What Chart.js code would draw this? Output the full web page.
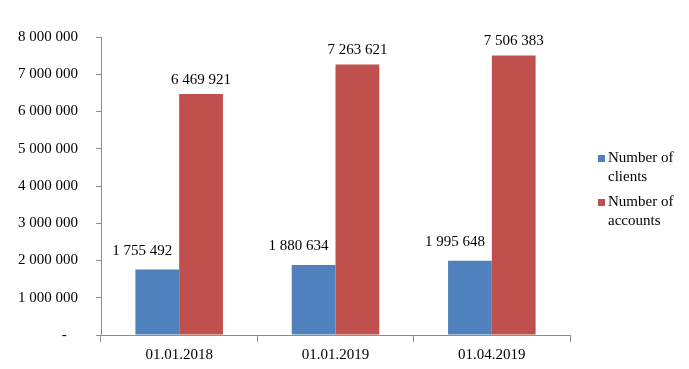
<!DOCTYPE html>
<html>
<head>
<meta charset="utf-8">
<script src="https://cdn.jsdelivr.net/npm/chart.js@4"></script>
<style>
  html, body { margin: 0; padding: 0; background: #fff; }
  #wrap { width: 689px; height: 369px; }
</style>
</head>
<body>
<div id="wrap"><canvas id="chart"></canvas></div>
<script>
// Clients vs accounts, three reporting dates.
const dates = ['01.01.2018', '01.01.2019', '01.04.2019'];
const clients = [1755492, 1880634, 1995648];
const accounts = [6469921, 7263621, 7506383];
const seriesNames = [['Number of', 'clients'], ['Number of', 'accounts']];

const FONT = '"Liberation Serif", "Times New Roman", serif';
const AXIS = '#8c8c8c';

function spaced(n) {
  return String(Math.round(n)).replace(/\B(?=(\d{3})+(?!\d))/g, ' ');
}

// value labels above each bar (clients labels nudged left, like the original)
const labelShift = [{ dx: -15, dy: -19 }, { dx: 0, dy: -14 }];
const barLabels = {
  id: 'barLabels',
  afterDatasetsDraw(chart) {
    const ctx = chart.ctx;
    ctx.save();
    ctx.font = '15px ' + FONT;
    ctx.fillStyle = '#000';
    ctx.textAlign = 'center';
    ctx.textBaseline = 'middle';
    chart.data.datasets.forEach((ds, i) => {
      const sh = labelShift[i];
      chart.getDatasetMeta(i).data.forEach((bar, j) => {
        ctx.fillText(spaced(ds.data[j]), bar.x + sh.dx, bar.y + sh.dy);
      });
    });
    ctx.restore();
  }
};

// legend on the right with wrapped names
const sideLegend = {
  id: 'sideLegend',
  afterDraw(chart) {
    const ctx = chart.ctx;
    ctx.save();
    ctx.font = '15px ' + FONT;
    ctx.textBaseline = 'middle';
    ctx.textAlign = 'left';
    chart.data.datasets.forEach((ds, i) => {
      const y = 158 + i * 44;
      ctx.fillStyle = ds.backgroundColor;
      ctx.fillRect(598, y - 3, 7, 7);
      ctx.fillStyle = '#000';
      seriesNames[i].forEach((line, k) => ctx.fillText(line, 608, y + k * 19));
    });
    ctx.restore();
  }
};

new Chart(document.getElementById('chart').getContext('2d'), {
  type: 'bar',
  data: {
    labels: dates,
    datasets: [
      { label: 'Number of clients', data: clients, backgroundColor: '#4F81BD' },
      { label: 'Number of accounts', data: accounts, backgroundColor: '#C0504D' },
    ],
  },
  options: {
    responsive: true, maintainAspectRatio: false, animation: false,
    layout: { padding: { left: 0, right: 119, top: 37, bottom: 0 } },
    plugins: { legend: { display: false }, tooltip: { enabled: false } },
    datasets: { bar: { categoryPercentage: 0.56, barPercentage: 1.0 } },
    scales: {
      x: {
        grid: { display: true, drawOnChartArea: false, offset: true, tickLength: 7, color: AXIS },
        border: { color: AXIS },
        ticks: { color: '#000', font: { family: FONT, size: 15 }, padding: 4 },
        afterFit: s => { s.height = 34; },
      },
      y: {
        min: 0, max: 8000000,
        grid: { display: true, drawOnChartArea: false, tickLength: 5, color: AXIS },
        border: { color: AXIS },
        ticks: {
          stepSize: 1000000, color: '#000', padding: 18,
          font: { family: FONT, size: 15 },
          callback: v => v === 0 ? '-   ' : spaced(v),
        },
        afterFit: s => { s.width = 101; },
      },
    },
  },
  plugins: [barLabels, sideLegend],
});
</script>
</body>
</html>
